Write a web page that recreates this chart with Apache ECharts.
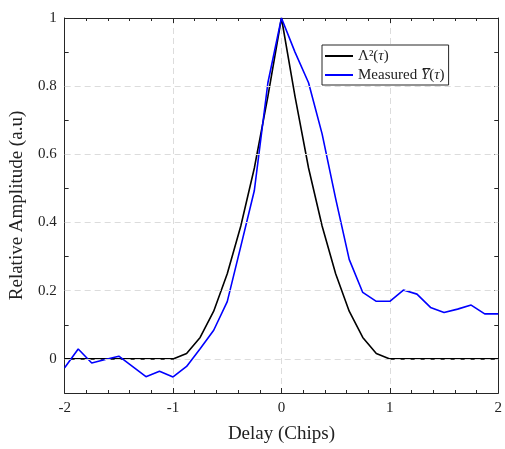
<!DOCTYPE html>
<html>
<head>
<meta charset="utf-8">
<script src="https://cdn.jsdelivr.net/npm/echarts@6/dist/echarts.min.js"></script>
<style>html,body{margin:0;padding:0;background:#fff}#c{width:505px;height:449px}</style>
</head>
<body>
<div id="c"></div>
<script>
// Delay values (chips)
const delayTheory = [-2, -1.875, -1.75, -1.625, -1.5, -1.375, -1.25, -1.125, -1, -0.875, -0.75, -0.625, -0.5, -0.375, -0.25, -0.125, 0, 0.125, 0.25, 0.375, 0.5, 0.625, 0.75, 0.875, 1, 1.125, 1.25, 1.375, 1.5, 1.625, 1.75, 1.875, 2];
const theoryValues = [0, 0, 0, 0, 0, 0, 0, 0, 0, 0.016, 0.063, 0.14, 0.25, 0.39, 0.56, 0.77, 1, 0.77, 0.56, 0.39, 0.25, 0.14, 0.063, 0.016, 0, 0, 0, 0, 0, 0, 0, 0, 0];
const delayMeasured = [-2, -1.875, -1.75, -1.625, -1.5, -1.375, -1.25, -1.125, -1, -0.875, -0.75, -0.625, -0.5, -0.375, -0.25, -0.125, 0, 0.125, 0.25, 0.375, 0.5, 0.625, 0.75, 0.875, 1, 1.125, 1.25, 1.375, 1.5, 1.625, 1.75, 1.875, 2];
const measuredValues = [-0.026, 0.029, -0.012, -0.002, 0.008, -0.022, -0.052, -0.036, -0.053, -0.022, 0.03, 0.084, 0.168, 0.33, 0.494, 0.81, 1, 0.9, 0.81, 0.66, 0.47, 0.292, 0.195, 0.169, 0.169, 0.202, 0.19, 0.151, 0.136, 0.146, 0.158, 0.132, 0.132];
const xTicks = [-2, -1, 0, 1, 2];
const yGridTicks = [0, 0.2, 0.4, 0.6, 0.8, 1];
const seriesNames = ['Λ²(τ)', 'Measured Y̅(τ)'];
const legendLabels = ['Λ²({i|τ})', 'Measured {i|Y̅}({i|τ})'];

const serif = 'Liberation Serif, DejaVu Serif, serif';
const axisCol = '#262626';
const gridStyle = {show: true, lineStyle: {color: '#dcdcdc', type: [6, 4], width: 1}};
const axLine = {show: true, onZero: false, lineStyle: {color: axisCol, width: 1}};

const chart = echarts.init(document.getElementById('c'), null, {renderer: 'canvas'});
const zip = (a, b) => a.map((v, i) => [v, b[i]]);

chart.setOption({
  animation: false,
  backgroundColor: '#fff',
  grid: {left: 62, right: 4, top: 18, bottom: 54, containLabel: false},
  legend: {
    show: true,
    left: 322, top: 45,
    orient: 'vertical',
    backgroundColor: '#fff',
    borderColor: '#262626', borderWidth: 1,
    padding: [3, 4, 2, 3],
    itemGap: 3,
    itemWidth: 28, itemHeight: 2,
    icon: 'rect',
    formatter: name => legendLabels[seriesNames.indexOf(name)],
    textStyle: {fontFamily: serif, fontSize: 15, color: '#222', lineHeight: 16,
      rich: {
        i: {fontFamily: serif, fontSize: 15, fontStyle: 'italic', color: '#222', lineHeight: 16}
      }},
    data: seriesNames
  },
  xAxis: [{
    type: 'value', min: xTicks[0], max: xTicks[xTicks.length - 1], interval: 1,
    position: 'bottom',
    name: 'Delay (Chips)', nameLocation: 'middle', nameGap: 32,
    nameTextStyle: {fontFamily: serif, fontSize: 19, color: '#222'},
    axisLine: axLine,
    axisTick: {show: true, inside: true, length: 5, lineStyle: {color: axisCol}},
    minorTick: {show: true, splitNumber: 5, length: 3, lineStyle: {color: axisCol}},
    axisLabel: {fontFamily: serif, fontSize: 15, color: '#222', margin: 8,
      formatter: v => String(v)},
    splitLine: gridStyle
  }, {
    type: 'value', min: xTicks[0], max: xTicks[xTicks.length - 1], interval: 1,
    position: 'top',
    axisLine: axLine,
    axisTick: {show: true, inside: true, length: 5, lineStyle: {color: axisCol}},
    minorTick: {show: true, splitNumber: 5, length: 3, lineStyle: {color: axisCol}},
    axisLabel: {show: false},
    splitLine: {show: false}
  }],
  yAxis: [{
    type: 'value', min: -0.1, max: 1, interval: 0.1,
    position: 'left',
    name: 'Relative Amplitude (a.u)', nameLocation: 'middle', nameGap: 32,
    nameTextStyle: {fontFamily: serif, fontSize: 19, color: '#222'},
    axisLine: axLine,
    axisTick: {show: true, inside: true, length: 4, lineStyle: {color: axisCol}},
    axisLabel: {fontFamily: serif, fontSize: 15, color: '#222', margin: 8,
      formatter: v => {
        const k = Math.round(v * 10);
        if (k % 2 !== 0) return '';
        return String(k / 10);
      }},
    splitLine: {show: false}
  }, {
    type: 'value', min: -0.1, max: 1, interval: 0.1,
    position: 'right',
    axisLine: axLine,
    axisTick: {show: true, inside: true, length: 4, lineStyle: {color: axisCol}},
    axisLabel: {show: false},
    splitLine: {show: false}
  }],
  series: [{
    name: seriesNames[0], type: 'line', xAxisIndex: 0, yAxisIndex: 0,
    data: zip(delayTheory, theoryValues),
    showSymbol: false, symbol: 'none',
    lineStyle: {color: '#000', width: 1.6},
    itemStyle: {color: '#000'},
    z: 3,
    markLine: {
      silent: true, symbol: 'none', label: {show: false},
      lineStyle: {color: '#dcdcdc', type: [6, 4], width: 1},
      data: yGridTicks.filter(v => v !== 1).map(v => ({yAxis: v}))
    }
  }, {
    name: seriesNames[1], type: 'line', xAxisIndex: 0, yAxisIndex: 0,
    data: zip(delayMeasured, measuredValues),
    showSymbol: false, symbol: 'none',
    lineStyle: {color: '#0000ff', width: 1.6},
    itemStyle: {color: '#0000ff'},
    z: 4
  }]
});
</script>
</body>
</html>
